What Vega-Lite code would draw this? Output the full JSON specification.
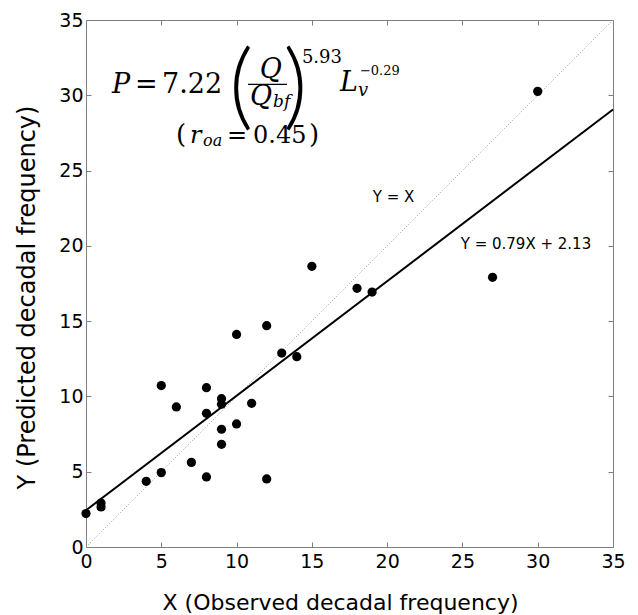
{
  "$schema": "https://vega.github.io/schema/vega-lite/v6.json",
  "width": 527,
  "height": 527,
  "autosize": "none",
  "padding": {"left": 86, "top": 20, "right": 25, "bottom": 68},
  "background": "white",
  "config": {
    "view": {"stroke": "#808080", "strokeWidth": 1},
    "axis": {
      "grid": false,
      "domain": false,
      "tickColor": "#808080",
      "tickSize": -5,
      "labelFlush": false,
      "labelFont": "DejaVu Sans",
      "labelFontSize": 19,
      "labelColor": "#000000",
      "titleFont": "DejaVu Sans",
      "titleFontSize": 22,
      "titleFontWeight": "normal",
      "titleColor": "#000000"
    },
    "text": {"font": "DejaVu Serif", "color": "#000000"}
  },
  "datasets": {
    "obs": [
      {"X": 0, "Y": 2.22}, {"X": 1, "Y": 2.92}, {"X": 1, "Y": 2.66}, {"X": 4, "Y": 4.36},
      {"X": 5, "Y": 4.94}, {"X": 5, "Y": 10.72}, {"X": 6, "Y": 9.3}, {"X": 7, "Y": 5.62},
      {"X": 8, "Y": 4.65}, {"X": 8, "Y": 10.58}, {"X": 8, "Y": 8.88}, {"X": 9, "Y": 9.85},
      {"X": 9, "Y": 9.48}, {"X": 9, "Y": 7.82}, {"X": 9, "Y": 6.82}, {"X": 10, "Y": 14.12},
      {"X": 10, "Y": 8.17}, {"X": 11, "Y": 9.54}, {"X": 12, "Y": 14.7}, {"X": 12, "Y": 4.52},
      {"X": 13, "Y": 12.88}, {"X": 14, "Y": 12.64}, {"X": 15, "Y": 18.64}, {"X": 18, "Y": 17.18},
      {"X": 19, "Y": 16.93}, {"X": 27, "Y": 17.91}, {"X": 30, "Y": 30.26}
    ],
    "fit": [{"X": 0, "Y": 2.44}, {"X": 35, "Y": 29.06}],
    "diag": [{"X": 0, "Y": 0}, {"X": 35, "Y": 35}],
    "one": [{}]
  },
  "resolve": {"axis": {"x": "independent", "y": "independent"}},
  "layer": [
    {
      "data": {"name": "diag"},
      "mark": {"type": "line", "color": "#9a9a9a", "strokeWidth": 1, "strokeDash": [1, 2]},
      "encoding": {
        "x": {"field": "X", "type": "quantitative", "scale": {"domain": [0, 35], "nice": false, "zero": false}, "axis": null},
        "y": {"field": "Y", "type": "quantitative", "scale": {"domain": [0, 35], "nice": false, "zero": false}, "axis": null}
      }
    },
    {
      "data": {"name": "fit"},
      "mark": {"type": "line", "color": "#000000", "strokeWidth": 2},
      "encoding": {
        "x": {"field": "X", "type": "quantitative", "scale": {"domain": [0, 35], "nice": false, "zero": false}, "axis": {"orient": "top", "labels": false, "title": null, "values": [0, 5, 10, 15, 20, 25, 30, 35]}},
        "y": {"field": "Y", "type": "quantitative", "scale": {"domain": [0, 35], "nice": false, "zero": false}, "axis": {"orient": "right", "labels": false, "title": null, "values": [0, 5, 10, 15, 20, 25, 30, 35]}}
      }
    },
    {
      "data": {"name": "obs"},
      "mark": {"type": "circle", "color": "#000000", "opacity": 1, "size": 85},
      "encoding": {
        "x": {"field": "X", "type": "quantitative", "scale": {"domain": [0, 35], "nice": false, "zero": false}, "axis": {"orient": "bottom", "values": [0, 5, 10, 15, 20, 25, 30, 35], "labelPadding": 10, "title": "X (Observed decadal frequency)", "titleX": 254, "titleY": 62, "titleBaseline": "alphabetic", "titleAlign": "center"}},
        "y": {"field": "Y", "type": "quantitative", "scale": {"domain": [0, 35], "nice": false, "zero": false}, "axis": {"orient": "left", "values": [0, 5, 10, 15, 20, 25, 30, 35], "labelPadding": 8, "title": "Y (Predicted decadal frequency)", "titleFontSize": 24, "titleX": -52, "titleY": 277, "titleAngle": -90, "titleBaseline": "alphabetic", "titleAlign": "center"}}
      }
    },
    {"data": {"name": "one"}, "mark": {"type": "text", "text": "Y = X", "font": "DejaVu Sans", "fontSize": 15, "align": "center", "baseline": "middle"},
     "encoding": {"x": {"datum": 20.42, "type": "quantitative", "axis": null}, "y": {"datum": 23.25, "type": "quantitative", "axis": null}}},
    {"data": {"name": "one"}, "mark": {"type": "text", "text": "Y = 0.79X + 2.13", "font": "DejaVu Sans", "fontSize": 15, "align": "center", "baseline": "middle"},
     "encoding": {"x": {"datum": 29.22, "type": "quantitative", "axis": null}, "y": {"datum": 20.13, "type": "quantitative", "axis": null}}},

    {"data": {"name": "one"}, "mark": {"type": "text", "text": "P", "fontStyle": "italic", "fontSize": 27, "align": "left", "baseline": "alphabetic"},
     "encoding": {"x": {"datum": 1.73, "type": "quantitative", "axis": null}, "y": {"datum": 30.13, "type": "quantitative", "axis": null}}},
    {"data": {"name": "one"}, "mark": {"type": "text", "text": "=", "fontSize": 27, "align": "left", "baseline": "alphabetic"},
     "encoding": {"x": {"datum": 3.25, "type": "quantitative", "axis": null}, "y": {"datum": 30.13, "type": "quantitative", "axis": null}}},
    {"data": {"name": "one"}, "mark": {"type": "text", "text": "7.22", "fontSize": 27, "align": "left", "baseline": "alphabetic"},
     "encoding": {"x": {"datum": 5.05, "type": "quantitative", "axis": null}, "y": {"datum": 30.13, "type": "quantitative", "axis": null}}},
    {"data": {"name": "one"}, "mark": {"type": "text", "text": "(", "font": "Lato", "fontWeight": 300, "fontSize": 94, "align": "left", "baseline": "alphabetic"},
     "encoding": {"x": {"datum": 9.5, "type": "quantitative", "axis": null}, "y": {"datum": 28.5, "type": "quantitative", "axis": null}}},
    {"data": {"name": "one"}, "mark": {"type": "text", "text": "Q", "fontStyle": "italic", "fontSize": 27, "align": "center", "baseline": "alphabetic"},
     "encoding": {"x": {"datum": 12.28, "type": "quantitative", "axis": null}, "y": {"datum": 31.12, "type": "quantitative", "axis": null}}},
    {"data": {"name": "one"}, "mark": {"type": "rule", "color": "#000000", "strokeWidth": 1.3},
     "encoding": {"x": {"datum": 10.76, "type": "quantitative", "axis": null}, "x2": {"datum": 13.35}, "y": {"datum": 30.72, "type": "quantitative", "axis": null}}},
    {"data": {"name": "one"}, "mark": {"type": "text", "text": "Q", "fontStyle": "italic", "fontSize": 27, "align": "center", "baseline": "alphabetic"},
     "encoding": {"x": {"datum": 11.62, "type": "quantitative", "axis": null}, "y": {"datum": 29.33, "type": "quantitative", "axis": null}}},
    {"data": {"name": "one"}, "mark": {"type": "text", "text": "bf", "fontStyle": "italic", "fontSize": 17, "align": "left", "baseline": "alphabetic"},
     "encoding": {"x": {"datum": 12.42, "type": "quantitative", "axis": null}, "y": {"datum": 29.2, "type": "quantitative", "axis": null}}},
    {"data": {"name": "one"}, "mark": {"type": "text", "text": ")", "font": "Lato", "fontWeight": 300, "fontSize": 94, "align": "left", "baseline": "alphabetic"},
     "encoding": {"x": {"datum": 13.1, "type": "quantitative", "axis": null}, "y": {"datum": 28.5, "type": "quantitative", "axis": null}}},
    {"data": {"name": "one"}, "mark": {"type": "text", "text": "5.93", "fontSize": 18, "align": "left", "baseline": "alphabetic"},
     "encoding": {"x": {"datum": 14.34, "type": "quantitative", "axis": null}, "y": {"datum": 32.12, "type": "quantitative", "axis": null}}},
    {"data": {"name": "one"}, "mark": {"type": "text", "text": "L", "fontStyle": "italic", "fontSize": 27, "align": "left", "baseline": "alphabetic"},
     "encoding": {"x": {"datum": 16.87, "type": "quantitative", "axis": null}, "y": {"datum": 30.26, "type": "quantitative", "axis": null}}},
    {"data": {"name": "one"}, "mark": {"type": "text", "text": "v", "fontStyle": "italic", "fontSize": 18, "align": "left", "baseline": "alphabetic"},
     "encoding": {"x": {"datum": 18.06, "type": "quantitative", "axis": null}, "y": {"datum": 29.93, "type": "quantitative", "axis": null}}},
    {"data": {"name": "one"}, "mark": {"type": "text", "text": "−0.29", "fontSize": 13, "align": "left", "baseline": "alphabetic"},
     "encoding": {"x": {"datum": 18.19, "type": "quantitative", "axis": null}, "y": {"datum": 31.32, "type": "quantitative", "axis": null}}},

    {"data": {"name": "one"}, "mark": {"type": "text", "text": "(", "fontSize": 26, "align": "left", "baseline": "alphabetic"},
     "encoding": {"x": {"datum": 5.98, "type": "quantitative", "axis": null}, "y": {"datum": 26.81, "type": "quantitative", "axis": null}}},
    {"data": {"name": "one"}, "mark": {"type": "text", "text": "r", "fontStyle": "italic", "fontSize": 24, "align": "left", "baseline": "alphabetic"},
     "encoding": {"x": {"datum": 6.91, "type": "quantitative", "axis": null}, "y": {"datum": 26.81, "type": "quantitative", "axis": null}}},
    {"data": {"name": "one"}, "mark": {"type": "text", "text": "oa", "fontStyle": "italic", "fontSize": 16, "align": "left", "baseline": "alphabetic"},
     "encoding": {"x": {"datum": 7.77, "type": "quantitative", "axis": null}, "y": {"datum": 26.61, "type": "quantitative", "axis": null}}},
    {"data": {"name": "one"}, "mark": {"type": "text", "text": "=", "fontSize": 24, "align": "left", "baseline": "alphabetic"},
     "encoding": {"x": {"datum": 9.36, "type": "quantitative", "axis": null}, "y": {"datum": 26.81, "type": "quantitative", "axis": null}}},
    {"data": {"name": "one"}, "mark": {"type": "text", "text": "0.45", "fontSize": 24, "align": "left", "baseline": "alphabetic"},
     "encoding": {"x": {"datum": 11.09, "type": "quantitative", "axis": null}, "y": {"datum": 26.81, "type": "quantitative", "axis": null}}},
    {"data": {"name": "one"}, "mark": {"type": "text", "text": ")", "fontSize": 26, "align": "left", "baseline": "alphabetic"},
     "encoding": {"x": {"datum": 14.81, "type": "quantitative", "axis": null}, "y": {"datum": 26.81, "type": "quantitative", "axis": null}}}
  ]
}
